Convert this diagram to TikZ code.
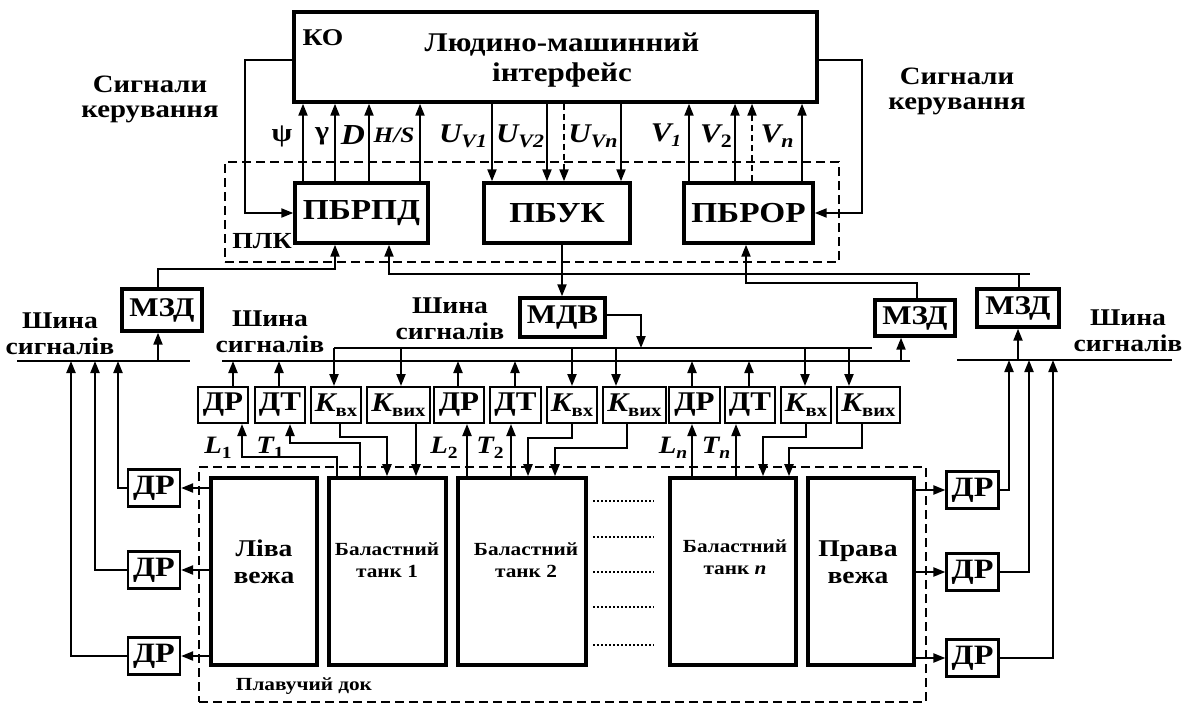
\documentclass[tikz,border=0pt]{standalone}
\usepackage{fontspec}
\setmainfont[FakeStretch=1.15]{Liberation Serif}
\usetikzlibrary{arrows.meta}
\newcommand{\fz}[1]{\fontsize{#1}{#1}\selectfont\bfseries}
\newcommand{\Kb}[1]{{\fz{27}\itshape K}{\fz{18}\raisebox{-5pt}{#1}}}
\newcommand{\Lab}[2]{{\fz{25}\itshape #1}{\fz{17}\raisebox{-5pt}{#2}}}
\begin{document}
\begin{tikzpicture}[x=1pt,y=-1pt,line width=2.1pt,
  arr/.style={-{Triangle[length=12pt,width=9pt]}},
  bigbox/.style={draw,line width=3.4pt,inner sep=0pt},
  smallbox/.style={draw,line width=2pt,inner sep=0pt,minimum height=36pt},
  drbox/.style={draw,line width=2.2pt,inner sep=0pt,minimum width=52pt,minimum height=37pt,font=\fz{28}},
  frame/.style={draw,line width=2pt,dash pattern=on 9pt off 5pt,inner sep=0pt},
  tank/.style={draw,line width=3.6pt,inner sep=0pt,minimum height=187pt},
  lbl/.style={inner sep=0pt,align=center}]
\useasboundingbox (0,0) rectangle (1185,706);

% dashed frames
\node[frame,minimum width=614pt,minimum height=100pt] (plk) at (532,212) {};
\node[frame,minimum width=727pt,minimum height=235pt] (dock) at (562.5,584.5) {};
\node[lbl,font=\fz{23}] (plkt) at (262,241) {ПЛК};
\node[lbl,font=\fz{18.5}] (dockt) at (304,686) {Плавучий док};

% top box
\node[bigbox,minimum width=523pt,minimum height=90pt] (hmi) at (555.5,57) {};
\node[lbl,font=\fz{27}] (hmit) at (562,60) {Людино-машинний\\[3pt]інтерфейс};
\node[lbl,font=\fz{24}] (ko) at (323,38) {КО};

% PLC boxes
\node[bigbox,minimum width=133pt,minimum height=60pt,font=\fz{29}] (pbrpd) at (361.5,213) {ПБРПД};
\node[bigbox,minimum width=146pt,minimum height=60pt,font=\fz{29}] (pbuk) at (557,213) {ПБУК};
\node[bigbox,minimum width=129pt,minimum height=60pt,font=\fz{29}] (pbror) at (748.5,213) {ПБРОР};

% control-signal labels
\node[lbl,font=\fz{25}] (sigL) at (150,99) {Сигнали\\[0pt]керування};
\node[lbl,font=\fz{25}] (sigR) at (957,91) {Сигнали\\[0pt]керування};

% arrows PBRPD -> HMI and HMI -> PBUK
\foreach \x in {303,335,369,420} \draw[arr] (pbrpd.north -| \x,0) -- (hmi.south -| \x,0);
\foreach \x in {492,547,621} \draw[arr] (hmi.south -| \x,0) -- (pbuk.north -| \x,0);
\draw[arr,dash pattern=on 6pt off 4pt] (hmi.south -| 564,0) -- (pbuk.north -| 564,0);
\foreach \x in {689,735,802} \draw[arr] (pbror.north -| \x,0) -- (hmi.south -| \x,0);
\draw[arr,dash pattern=on 6pt off 4pt] (pbror.north -| 752,0) -- (hmi.south -| 752,0);

\node[lbl,font=\fz{26}] (psi) at (282,136) {ψ};
\node[lbl,font=\fz{26}] (gam) at (322,136) {γ};
\node[lbl,font=\fz{29}\itshape] (dd) at (353,135) {D};
\node[lbl,font=\fz{22}\itshape] (hs) at (394,135) {H/S};
\node[lbl] (uv1) at (463,136) {{\fz{27}\itshape U}{\fz{19}\itshape\raisebox{-5pt}{V1}}};
\node[lbl] (uv2) at (520,136) {{\fz{27}\itshape U}{\fz{19}\itshape\raisebox{-5pt}{V2}}};
\node[lbl] (uvn) at (593,136) {{\fz{27}\itshape U}{\fz{19}\itshape\raisebox{-5pt}{Vn}}};
\node[lbl] (v1) at (666,135) {{\fz{27}\itshape V}{\fz{17}\itshape\raisebox{-5pt}{1}}};
\node[lbl] (v2) at (716,136) {{\fz{27}\itshape V}{\fz{19}\raisebox{-5pt}{2}}};
\node[lbl] (vn) at (777,136) {{\fz{27}\itshape V}{\fz{19}\itshape\raisebox{-5pt}{n}}};

% feedback lines
\draw[arr] (hmi.west |- 0,60) -- (245,60) |- (pbrpd.west);
\draw[arr] (hmi.east |- 0,60) -- (862,60) |- (pbror.east);

% MZD / MDV
\node[bigbox,minimum width=80pt,minimum height=42pt,font=\fz{27}] (mzdL) at (162,310) {МЗД};
\node[bigbox,minimum width=85pt,minimum height=39pt,font=\fz{27}] (mdv) at (562.5,317.5) {МДВ};
\node[bigbox,minimum width=80pt,minimum height=36pt,font=\fz{27}] (mzdM) at (915,318) {МЗД};
\node[bigbox,minimum width=82pt,minimum height=38pt,font=\fz{27}] (mzdR) at (1018,308) {МЗД};

\draw[arr] (pbuk.south -| 562,0) -- (mdv.north -| 562,0);
\draw[arr] (mzdL.north -| 158,0) -- (158,269) -- (335,269) -- (pbrpd.south -| 335,0);
\draw[arr] (mzdR.north -| 1019,0) |- (389,274) -- (pbrpd.south -| 389,0);
\draw (1019,274) -- (1030,274);
\draw[arr] (mzdM.north -| 917,0) |- (746,283) -- (pbror.south -| 746,0);

% buses
\coordinate (ubL) at (334,348); \coordinate (ubR) at (872,348);
\coordinate (lbL) at (222,361); \coordinate (lbR) at (910,361);
\coordinate (bL1) at (17,361); \coordinate (bL2) at (190,361);
\coordinate (bR1) at (957,360); \coordinate (bR2) at (1172,360);
\draw (ubL) -- (ubR);
\draw (lbL) -- (lbR);
\draw (bL1) -- (bL2);
\draw (bR1) -- (bR2);
\draw[arr] (mdv.east |- 0,315) -| (ubL -| 641,0);
\draw[arr] (lbL -| 901,0) -- (mzdM.south -| 901,0);
\draw[arr] (bL1 -| 158,0) -- (mzdL.south -| 158,0);
\draw[arr] (bR1 -| 1018,0) -- (mzdR.south -| 1018,0);

\node[lbl,font=\fz{24}] (busT1) at (60,334) {Шина\\[2pt]сигналів};
\node[lbl,font=\fz{24}] (busT2) at (270,332) {Шина\\[2pt]сигналів};
\node[lbl,font=\fz{24}] (busT3) at (450,319) {Шина\\[2pt]сигналів};
\node[lbl,font=\fz{24}] (busT4) at (1128,331) {Шина\\[2pt]сигналів};

% sensor row
\node[smallbox,minimum width=50pt,font=\fz{27}] (dr1) at (223,405) {ДР};
\node[smallbox,minimum width=50pt,font=\fz{27}] (dt1) at (280,405) {ДТ};
\node[smallbox,minimum width=50pt] (kvx1) at (336,405) {\Kb{вх}};
\node[smallbox,minimum width=63pt] (kvix1) at (398.5,405) {\Kb{вих}};
\node[smallbox,minimum width=50pt,font=\fz{27}] (dr2) at (459,405) {ДР};
\node[smallbox,minimum width=51pt,font=\fz{27}] (dt2) at (515.5,405) {ДТ};
\node[smallbox,minimum width=50pt] (kvx2) at (572,405) {\Kb{вх}};
\node[smallbox,minimum width=63pt] (kvix2) at (634.5,405) {\Kb{вих}};
\node[smallbox,minimum width=51pt,font=\fz{27}] (drn) at (694.5,405) {ДР};
\node[smallbox,minimum width=50pt,font=\fz{27}] (dtn) at (750,405) {ДТ};
\node[smallbox,minimum width=50pt] (kvxn) at (806,405) {\Kb{вх}};
\node[smallbox,minimum width=63pt] (kvixn) at (868.5,405) {\Kb{вих}};

\draw[arr] (dr1.north -| 233,0) -- (lbL -| 233,0);
\draw[arr] (dt1.north -| 279,0) -- (lbL -| 279,0);
\draw[arr] (dr2.north -| 458,0) -- (lbL -| 458,0);
\draw[arr] (dt2.north -| 515,0) -- (lbL -| 515,0);
\draw[arr] (drn.north -| 692,0) -- (lbL -| 692,0);
\draw[arr] (dtn.north -| 749,0) -- (lbL -| 749,0);
\draw[arr] (ubL) -- (kvx1.north -| ubL);
\draw[arr] (ubL -| 401,0) -- (kvix1.north -| 401,0);
\draw[arr] (ubL -| 572,0) -- (kvx2.north -| 572,0);
\draw[arr] (ubL -| 616,0) -- (kvix2.north -| 616,0);
\draw[arr] (ubL -| 805,0) -- (kvxn.north -| 805,0);
\draw[arr] (ubL -| 849,0) -- (kvixn.north -| 849,0);

% tanks
\node[tank,minimum width=106pt] (leftT) at (264,571.5) {};
\node[tank,minimum width=117pt] (tank1) at (387.5,571.5) {};
\node[tank,minimum width=128pt] (tank2) at (522,571.5) {};
\node[tank,minimum width=126pt] (tankn) at (733,571.5) {};
\node[tank,minimum width=106pt] (rightT) at (861,571.5) {};
\node[lbl,font=\fz{24}] (leftTt) at (264,562) {Ліва\\[3pt]вежа};
\node[lbl,font=\fz{18.5}] (tank1t) at (387,560) {Баластний\\[3pt]танк 1};
\node[lbl,font=\fz{18.5}] (tank2t) at (526,560) {Баластний\\[3pt]танк 2};
\node[lbl,font=\fz{18.5}] (tanknt) at (735,557) {Баластний\\[3pt]танк {\itshape n}};
\node[lbl,font=\fz{24}] (rightTt) at (858,562) {Права\\[3pt]вежа};
\foreach \y in {501,537,572,607,645}
  \draw[line width=1.8pt,dash pattern=on 1.8pt off 2.2pt] (593,\y) -- (654,\y);

% sensor to tank wiring
\draw[arr] (tank1.north -| 337,0) |- (242,457) -- (dr1.south -| 242,0);
\draw[arr] (tank1.north -| 360,0) |- (290,443) -- (dt1.south -| 290,0);
\draw[arr] (kvx1.south -| 340,0) |- (387,437) -- (tank1.north -| 387,0);
\draw[arr] (kvix1.south -| 416,0) -- (tank1.north -| 416,0);
\draw[arr] (tank2.north -| 467,0) -- (dr2.south -| 467,0);
\draw[arr] (tank2.north -| 511,0) -- (dt2.south -| 511,0);
\draw[arr] (kvx2.south -| 572,0) |- (528,438) -- (tank2.north -| 528,0);
\draw[arr] (kvix2.south -| 627,0) |- (555,448) -- (tank2.north -| 555,0);
\draw[arr] (tankn.north -| 692,0) -- (drn.south -| 692,0);
\draw[arr] (tankn.north -| 736,0) -- (dtn.south -| 736,0);
\draw[arr] (kvxn.south -| 806,0) |- (763,437) -- (tankn.north -| 763,0);
\draw[arr] (kvixn.south -| 862,0) |- (789,448) -- (tankn.north -| 789,0);

\node[lbl] (l1) at (218,448) {\Lab{L}{1}};
\node[lbl] (t1) at (270,448) {\Lab{T}{1}};
\node[lbl] (l2) at (444,448) {\Lab{L}{2}};
\node[lbl] (t2) at (490,448) {\Lab{T}{2}};
\node[lbl] (ln) at (673,448) {\Lab{L}{\itshape n}};
\node[lbl] (tn) at (716,448) {\Lab{T}{\itshape n}};

% level sensors of the towers
\node[drbox] (drL1) at (154,488) {ДР};
\node[drbox] (drL2) at (154,570) {ДР};
\node[drbox] (drL3) at (154,656) {ДР};
\node[drbox] (drR1) at (972.5,490) {ДР};
\node[drbox] (drR2) at (972.5,572) {ДР};
\node[drbox] (drR3) at (972.5,658) {ДР};
\draw[arr] (leftT.west |- drL1) -- (drL1.east);
\draw[arr] (leftT.west |- drL2) -- (drL2.east);
\draw[arr] (leftT.west |- drL3) -- (drL3.east);
\draw[arr] (rightT.east |- drR1) -- (drR1.west);
\draw[arr] (rightT.east |- drR2) -- (drR2.west);
\draw[arr] (rightT.east |- drR3) -- (drR3.west);
\draw[arr] (drL1.west) -| (bL1 -| 118,0);
\draw[arr] (drL2.west) -| (bL1 -| 95,0);
\draw[arr] (drL3.west) -| (bL1 -| 71,0);
\draw[arr] (drR1.east) -| (bR1 -| 1009,0);
\draw[arr] (drR2.east) -| (bR1 -| 1029,0);
\draw[arr] (drR3.east) -| (bR1 -| 1053,0);
\end{tikzpicture}
\end{document}
